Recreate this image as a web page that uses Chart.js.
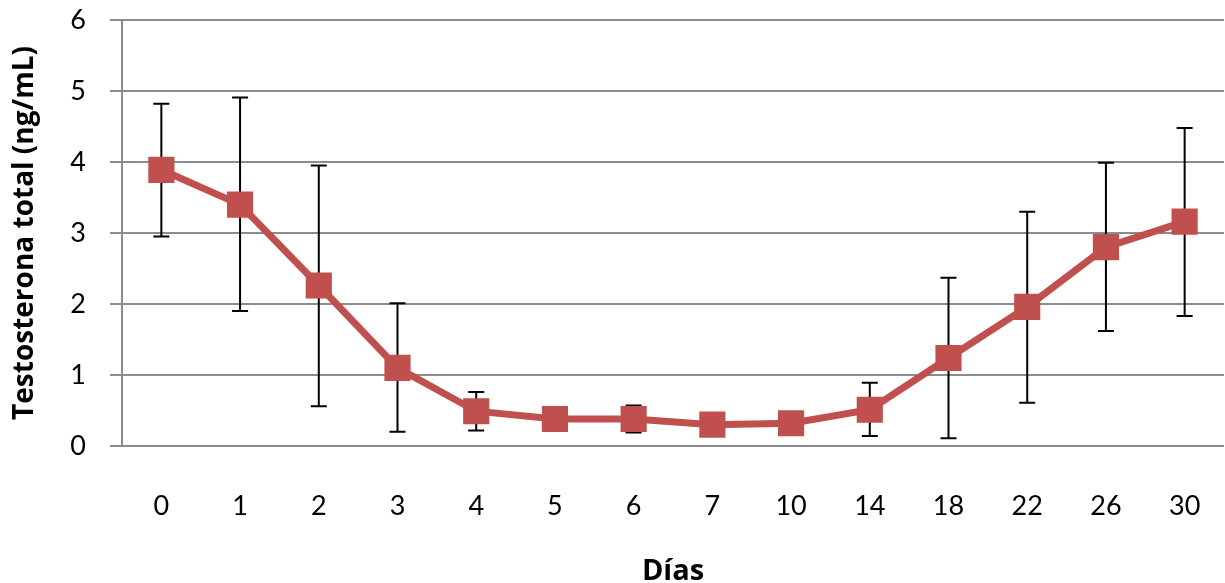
<!DOCTYPE html>
<html>
<head>
<meta charset="utf-8">
<script src="https://cdn.jsdelivr.net/npm/chart.js@4"></script>
<style>
  html, body { margin: 0; padding: 0; background: #fff; overflow: hidden; }
  canvas { display: block; }
</style>
</head>
<body>
<canvas id="chart" width="1225" height="583"></canvas>
<script>
// Días de muestreo
const dias = ['0', '1', '2', '3', '4', '5', '6', '7', '10', '14', '18', '22', '26', '30'];
// Testosterona total media (ng/mL)
const testoMedia = [3.89, 3.40, 2.26, 1.10, 0.49, 0.38, 0.38, 0.30, 0.32, 0.51, 1.24, 1.96, 2.80, 3.16];
// Límites de las barras de error
const errSup = [4.82, 4.91, 3.95, 2.01, 0.76, 0.42, 0.57, 0.30, 0.32, 0.89, 2.37, 3.30, 3.99, 4.48];
const errInf = [2.95, 1.90, 0.56, 0.20, 0.22, 0.34, 0.19, 0.30, 0.32, 0.14, 0.11, 0.61, 1.62, 1.83];
const yTicks = [0, 1, 2, 3, 4, 5, 6];

const FONT = 'Lato, "Open Sans", sans-serif';
const TITLE_FONT = '"Open Sans", Lato, sans-serif';

// Draw error bars underneath the markers
const errorBars = {
    id: 'errorBars',
    beforeDatasetsDraw(chart) {
        const ctx = chart.ctx;
        const x = chart.scales.x, y = chart.scales.y;
        ctx.save();
        ctx.strokeStyle = '#000';
        ctx.lineWidth = 2;
        dias.forEach(function(d, i) {
            const px = x.getPixelForValue(i);
            const top = y.getPixelForValue(errSup[i]);
            const bot = y.getPixelForValue(errInf[i]);
            if (Math.abs(bot - top) < 1) return;
            ctx.beginPath();
            ctx.moveTo(px, top); ctx.lineTo(px, bot);
            ctx.moveTo(px - 8, top); ctx.lineTo(px + 8, top);
            ctx.moveTo(px - 8, bot); ctx.lineTo(px + 8, bot);
            ctx.stroke();
        });
        ctx.restore();
    }
};

new Chart(document.getElementById('chart'), {
    type: 'line',
    data: {
        labels: dias,
        datasets: [{
            data: testoMedia,
            borderColor: '#C0504D',
            backgroundColor: '#C0504D',
            borderWidth: 7,
            pointStyle: 'rect',
            pointRadius: 18.5,
            pointBorderWidth: 0,
            tension: 0
        }]
    },
    options: {
        responsive: false,
        animation: false,
        layout: { autoPadding: false, padding: { top: 20, right: 1, left: 0, bottom: 0 } },
        plugins: {
            legend: { display: false },
            tooltip: { enabled: false }
        },
        scales: {
            x: {
                offset: true,
                grid: { display: false },
                border: { display: false },
                ticks: {
                    color: '#000',
                    font: { family: FONT, size: 27 },
                    padding: 36,
                    maxRotation: 0
                },
                title: {
                    display: true,
                    text: 'Días',
                    color: '#000',
                    font: { family: TITLE_FONT, size: 29, weight: 'bold' },
                    padding: { top: 0, bottom: -6 }
                },
                afterFit(scale) {
                    scale.height = 137;
                    scale.paddingLeft = 0;
                    scale.paddingRight = 0;
                }
            },
            y: {
                min: 0,
                max: 6,
                afterBuildTicks(scale) {
                    scale.ticks = yTicks.map(function(v) { return { value: v }; });
                },
                grid: {
                    color: '#8c8c8c',
                    lineWidth: 2,
                    drawTicks: true,
                    tickLength: 12
                },
                border: { display: true, color: '#8c8c8c', width: 2 },
                ticks: {
                    color: '#000',
                    font: { family: FONT, size: 27 },
                    padding: 24
                },
                title: {
                    display: true,
                    text: 'Testosterona total (ng/mL)',
                    color: '#000',
                    font: { family: TITLE_FONT, size: 28, weight: 'bold' },
                    padding: { top: 8, bottom: 16 }
                },
                afterFit(scale) {
                    scale.width = 122;
                    scale.paddingTop = 0;
                    scale.paddingBottom = 0;
                }
            }
        }
    },
    plugins: [errorBars]
});
</script>
</body>
</html>
